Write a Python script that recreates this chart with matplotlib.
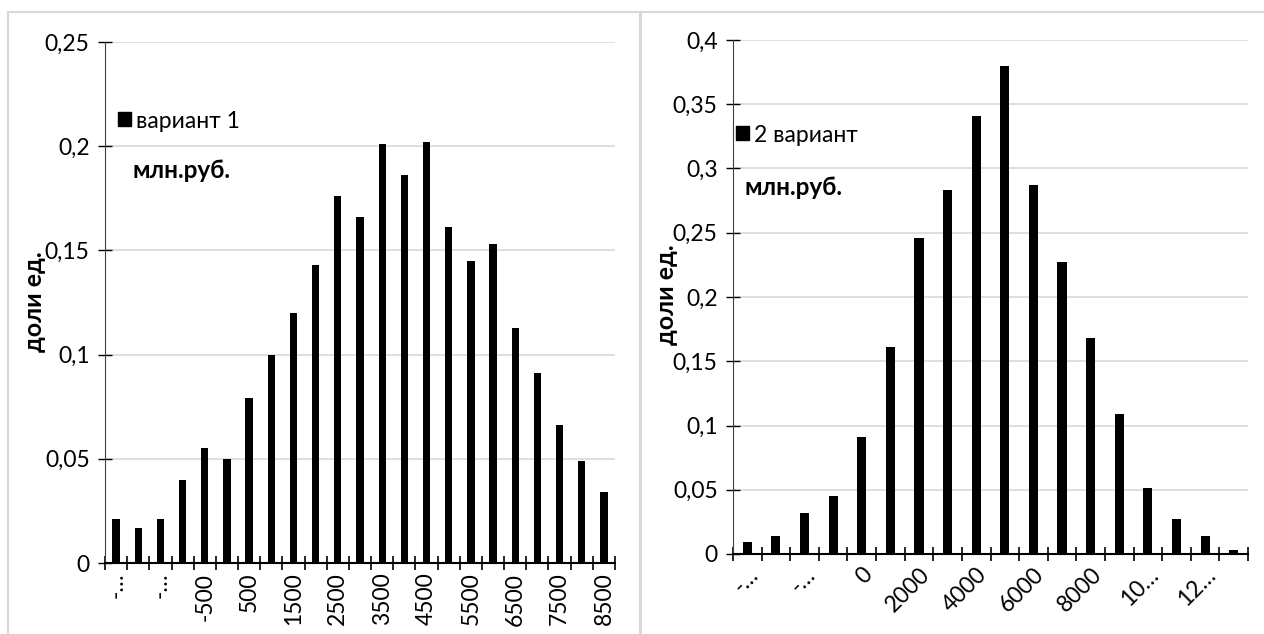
"""Two histograms of outcome shares (variant 1 and variant 2), Excel-style."""

import matplotlib
matplotlib.use("Agg")
import matplotlib.pyplot as plt
from matplotlib.patches import Patch, Rectangle
from matplotlib.ticker import FuncFormatter, MultipleLocator

plt.rcParams["font.family"] = ["Lato", "DejaVu Sans"]

# variant 1: bins of 500 mln rub
v1_bins = [-2500, -2000, -1500, -1000, -500, 0, 500, 1000, 1500, 2000, 2500, 3000,
           3500, 4000, 4500, 5000, 5500, 6000, 6500, 7000, 7500, 8000, 8500]
v1_share = [0.021, 0.017, 0.021, 0.040, 0.055, 0.050, 0.079, 0.100, 0.120, 0.143,
            0.176, 0.166, 0.201, 0.186, 0.202, 0.161, 0.145, 0.153, 0.113, 0.091,
            0.066, 0.049, 0.034]
v1_labels = ["-…", "-…", "-500", "500", "1500", "2500", "3500", "4500",
             "5500", "6500", "7500", "8500"]

# variant 2: bins of 1000 mln rub
v2_bins = [-4000, -3000, -2000, -1000, 0, 1000, 2000, 3000, 4000, 5000, 6000,
           7000, 8000, 9000, 10000, 11000, 12000, 13000]
v2_share = [0.009, 0.014, 0.032, 0.045, 0.091, 0.161, 0.246, 0.283, 0.341, 0.380,
            0.287, 0.227, 0.168, 0.109, 0.051, 0.027, 0.014, 0.003]
v2_labels = ["-…", "-…", "0", "2000", "4000", "6000", "8000", "10…", "12…"]

W, H = 1264, 634
GRID = "#d9d9d9"
FS = 16.5
FS_BOLD = 17.5


def px_axes(fig, x0, y_top, x1, y_bot):
    return fig.add_axes([x0 / W, (H - y_bot) / H, (x1 - x0) / W, (y_bot - y_top) / H])


def comma_fmt(v, _):
    s = f"{v:.2f}".rstrip("0").rstrip(".")
    return s.replace(".", ",")


def draw_hist(ax, shares, labels, ymax, width, label, rot):
    n = len(shares)
    pos = list(range(n))
    ax.bar(pos, shares, width=width, color="black", label=label, zorder=3)
    ax.set_xlim(-0.5, n - 0.5)
    ax.set_ylim(0, ymax)

    ax.yaxis.set_major_locator(MultipleLocator(0.05))
    ax.yaxis.set_major_formatter(FuncFormatter(comma_fmt))
    ax.grid(axis="y", color=GRID, lw=1.2, zorder=0)
    ax.set_axisbelow(True)

    # tick marks between categories, labels under every second category
    ax.set_xticks([i - 0.5 for i in range(n + 1)])
    ax.set_xticklabels([])
    ax.set_xticks(pos[::2], labels, minor=True)
    ax.tick_params(axis="x", which="major", direction="inout", length=10, width=1.2)
    ax.tick_params(axis="x", which="minor", length=0, pad=7)
    ax.tick_params(axis="y", direction="inout", length=10, width=1, labelsize=FS, pad=6)
    for t in ax.get_xticklabels(minor=True):
        t.set_fontsize(FS)
        if rot == 90:
            t.set_rotation(90)
            t.set_ha("center")
            t.set_va("top")
        else:
            t.set_rotation(45)
            t.set_ha("right")
            t.set_va("top")
            t.set_rotation_mode("anchor")

    for s in ("top", "right"):
        ax.spines[s].set_visible(False)
    ax.spines["left"].set_color("#404040")
    ax.spines["bottom"].set_color("black")
    ax.spines["bottom"].set_linewidth(1.5)
    ax.spines["bottom"].set_zorder(4)


fig = plt.figure(figsize=(W / 100, H / 100), dpi=100)

# chart area frames
fig.patches.append(Rectangle((8 / W, -0.01), (640 - 8) / W, (H - 12) / H + 0.01,
                             transform=fig.transFigure, fill=False, ec=GRID, lw=1.5))
fig.patches.append(Rectangle((641 / W, -0.01), (W - 641 + 20) / W, (H - 12) / H + 0.01,
                             transform=fig.transFigure, fill=False, ec=GRID, lw=1.5))

ax1 = px_axes(fig, 105, 42, 615, 563)
draw_hist(ax1, v1_share, v1_labels, 0.25, 0.33, "вариант 1", 90)
ax1.legend(handles=[Patch(color="black", label="вариант 1")], loc="center left",
           bbox_to_anchor=(118 / W, (H - 121) / H), bbox_transform=fig.transFigure,
           frameon=False, fontsize=FS, handlelength=0.55, handleheight=0.55,
           handletextpad=0.25, borderpad=0, borderaxespad=0)
fig.text(133 / W, (H - 170) / H, "млн.руб.", fontsize=FS_BOLD, fontweight="bold",
         va="center")
fig.text(34 / W, (H - 302) / H, "доли ед.", fontsize=FS_BOLD + 0.5, fontweight="bold",
         rotation=90, ha="center", va="center")

ax2 = px_axes(fig, 733, 40, 1248, 554)
draw_hist(ax2, v2_share, v2_labels, 0.4, 0.32, "2 вариант", 45)
ax2.legend(handles=[Patch(color="black", label="2 вариант")], loc="center left",
           bbox_to_anchor=(736 / W, (H - 135) / H), bbox_transform=fig.transFigure,
           frameon=False, fontsize=FS, handlelength=0.55, handleheight=0.55,
           handletextpad=0.25, borderpad=0, borderaxespad=0)
fig.text(745 / W, (H - 187) / H, "млн.руб.", fontsize=FS_BOLD, fontweight="bold",
         va="center")
fig.text(666 / W, (H - 295) / H, "доли ед.", fontsize=FS_BOLD + 0.5, fontweight="bold",
         rotation=90, ha="center", va="center")

fig.savefig("out.png", dpi=100)
